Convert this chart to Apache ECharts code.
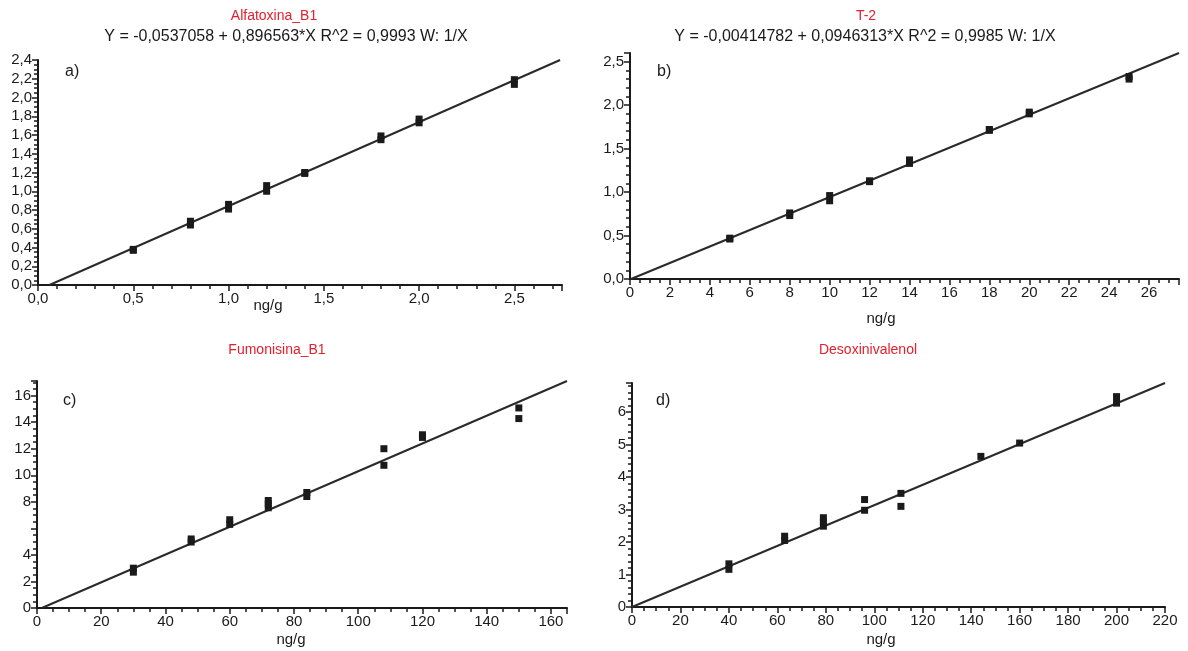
<!DOCTYPE html>
<html><head><meta charset="utf-8">
<script src="https://cdn.jsdelivr.net/npm/echarts@6/dist/echarts.min.js"></script>
<style>html,body{margin:0;padding:0;background:#fff}#c{width:1188px;height:651px}</style>
</head><body><div id="c"></div>
<script>
// ---- data ----
const titles = ['Alfatoxina_B1', 'T-2', 'Fumonisina_B1', 'Desoxinivalenol'];
const equations = ['Y = -0,0537058 + 0,896563*X R^2 = 0,9993 W: 1/X',
                   'Y = -0,00414782 + 0,0946313*X R^2 = 0,9985 W: 1/X', '', ''];
const panelTags = ['a)', 'b)', 'c)', 'd)'];
const xName = 'ng/g';

const xA = [0.5, 0.5, 0.8, 0.8, 1.0, 1.0, 1.2, 1.2, 1.4, 1.4, 1.8, 1.8, 2.0, 2.0, 2.5, 2.5];
const yA = [0.37, 0.38, 0.64, 0.68, 0.81, 0.86, 1.00, 1.06, 1.19, 1.20, 1.55, 1.59, 1.73, 1.77, 2.14, 2.19];
const fitXA = [0.06, 2.74];
const fitYA = [0.0, 2.40];

const xB = [5, 5, 8, 8, 10, 10, 12, 12, 14, 14, 18, 18, 20, 20, 25, 25];
const yB = [0.46, 0.47, 0.73, 0.76, 0.90, 0.96, 1.12, 1.13, 1.33, 1.37, 1.71, 1.72, 1.90, 1.92, 2.30, 2.33];
const fitXB = [0.05, 27.5];
const fitYB = [0.0, 2.60];

const xC = [30, 30, 48, 48, 60, 60, 72, 72, 72, 84, 84, 108, 108, 120, 120, 150, 150];
const yC = [2.7, 3.0, 4.97, 5.2, 6.3, 6.65, 7.55, 7.85, 8.1, 8.4, 8.7, 10.75, 12.0, 12.85, 13.05, 14.27, 15.07];
const fitXC = [1.5, 165];
const fitYC = [0.0, 17.1];

const xD = [40, 40, 63, 63, 79, 79, 79, 96, 96, 111, 111, 144, 160, 200, 200];
const yD = [1.16, 1.33, 2.05, 2.18, 2.49, 2.62, 2.75, 2.98, 3.31, 3.10, 3.50, 4.64, 5.05, 6.28, 6.48];
const fitXD = [0, 220];
const fitYD = [0.0, 6.90];

// tick labels
const xTicksA = [0, 0.5, 1.0, 1.5, 2.0, 2.5];
const yTicksA = [0, 0.2, 0.4, 0.6, 0.8, 1.0, 1.2, 1.4, 1.6, 1.8, 2.0, 2.2, 2.4];
const xTicksB = [0, 2, 4, 6, 8, 10, 12, 14, 16, 18, 20, 22, 24, 26];
const yTicksB = [0, 0.5, 1.0, 1.5, 2.0, 2.5];
const xTicksC = [0, 20, 40, 60, 80, 100, 120, 140, 160];
const yTicksC = [0, 2, 4, 8, 10, 12, 14, 16];
const xTicksD = [0, 20, 40, 60, 80, 100, 120, 140, 160, 180, 200, 220];
const yTicksD = [0, 1, 2, 3, 4, 5, 6];

// ---- layout / axis configuration ----
const panels = [
  {xs: xA, ys: yA, fx: fitXA, fy: fitYA, xt: xTicksA, yt: yTicksA,
   grid: {left: 38, top: 60, width: 524, height: 225},
   xMax: 2.75, xMaj: 0.5, xMin: 0.1, yMax: 2.4, yMaj: 0.2, yMin: 0.05, xDec: 1, yDec: 1,
   title: [274, 16], eq: [286, 37], tag: [65, 72], name: [268, 306]},
  {xs: xB, ys: yB, fx: fitXB, fy: fitYB, xt: xTicksB, yt: yTicksB,
   grid: {left: 630, top: 53, width: 549, height: 226},
   xMax: 27.5, xMaj: 2, xMin: 0.5, yMax: 2.6, yMaj: 0.5, yMin: 0.1, xDec: 0, yDec: 1,
   title: [866, 16], eq: [865, 37], tag: [657, 72], name: [881, 319]},
  {xs: xC, ys: yC, fx: fitXC, fy: fitYC, xt: xTicksC, yt: yTicksC,
   grid: {left: 37, top: 381, width: 530, height: 227},
   xMax: 165, xMaj: 20, xMin: 5, yMax: 17.1, yMaj: 2, yMin: 0.5, xDec: 0, yDec: 0,
   title: [277, 350], eq: null, tag: [63, 401], name: [291, 640]},
  {xs: xD, ys: yD, fx: fitXD, fy: fitYD, xt: xTicksD, yt: yTicksD,
   grid: {left: 632, top: 383, width: 533, height: 224},
   xMax: 220, xMaj: 20, xMin: 5, yMax: 6.9, yMaj: 1, yMin: 0.2, xDec: 0, yDec: 0,
   title: [868, 350], eq: null, tag: [656, 401], name: [881, 640]}
];

const FONT = '"Liberation Sans", Arial, sans-serif';
const INK = '#1a1a1a';

function fmt(list, dec) {
  return function (v) {
    for (const t of list) {
      if (Math.abs(t - v) < 1e-6) return v.toFixed(dec).replace('.', ',');
    }
    return '';
  };
}

const grids = [], xAxes = [], yAxes = [], series = [], graphics = [];
panels.forEach((p, i) => {
  grids.push(Object.assign({}, p.grid));
  xAxes.push({
    type: 'value', gridIndex: i, min: 0, max: p.xMax, interval: p.xMaj, position: 'bottom',
    axisLine: {show: true, onZero: false, lineStyle: {color: INK, width: 2}},
    axisTick: {show: true, length: 6, lineStyle: {color: INK, width: 1.5}},
    axisLabel: {show: true, margin: 6, color: INK, fontSize: 15, fontFamily: FONT, formatter: fmt(p.xt, p.xDec), showMaxLabel: true},
    splitLine: {show: false}
  });
  xAxes.push({
    type: 'value', gridIndex: i, min: 0, max: p.xMax, interval: p.xMin, position: 'bottom',
    axisLine: {show: false, onZero: false},
    axisTick: {show: true, length: 4, lineStyle: {color: INK, width: 1.5}},
    axisLabel: {show: false}, splitLine: {show: false}
  });
  yAxes.push({
    type: 'value', gridIndex: i, min: 0, max: p.yMax, interval: p.yMaj, position: 'left',
    axisLine: {show: true, onZero: false, lineStyle: {color: INK, width: 2}},
    axisTick: {show: true, length: 6, lineStyle: {color: INK, width: 1.5}},
    axisLabel: {show: true, margin: 6, color: INK, fontSize: 15, fontFamily: FONT, formatter: fmt(p.yt, p.yDec)},
    splitLine: {show: false}
  });
  yAxes.push({
    type: 'value', gridIndex: i, min: 0, max: p.yMax, interval: p.yMin, position: 'left',
    axisLine: {show: false, onZero: false},
    axisTick: {show: true, length: 4, lineStyle: {color: INK, width: 1.5}},
    axisLabel: {show: false}, splitLine: {show: false}
  });
  series.push({
    type: 'line', xAxisIndex: 2 * i, yAxisIndex: 2 * i, symbol: 'none', z: 2, silent: true,
    lineStyle: {color: '#2a2a2a', width: 2},
    data: p.fx.map((x, k) => [x, p.fy[k]])
  });
  series.push({
    type: 'scatter', xAxisIndex: 2 * i, yAxisIndex: 2 * i, symbol: 'rect', symbolSize: 7, z: 3,
    itemStyle: {color: INK, opacity: 1},
    data: p.xs.map((x, k) => [x, p.ys[k]])
  });
  graphics.push({type: 'text', x: p.title[0], y: p.title[1],
    style: {text: titles[i], fill: '#e3202c', font: '14px ' + FONT, textAlign: 'center', textVerticalAlign: 'middle'}});
  if (p.eq) graphics.push({type: 'text', x: p.eq[0], y: p.eq[1],
    style: {text: equations[i], fill: INK, font: '16px ' + FONT, textAlign: 'center', textVerticalAlign: 'middle'}});
  graphics.push({type: 'text', x: p.tag[0], y: p.tag[1],
    style: {text: panelTags[i], fill: INK, font: '16px ' + FONT, textAlign: 'left', textVerticalAlign: 'middle'}});
  graphics.push({type: 'text', x: p.name[0], y: p.name[1],
    style: {text: xName, fill: INK, font: '15px ' + FONT, textAlign: 'center', textVerticalAlign: 'middle'}});
});

const chart = echarts.init(document.getElementById('c'), null, {renderer: 'canvas'});
chart.setOption({
  animation: false,
  backgroundColor: '#fff',
  grid: grids, xAxis: xAxes, yAxis: yAxes, series: series, graphic: graphics
});
</script></body></html>
